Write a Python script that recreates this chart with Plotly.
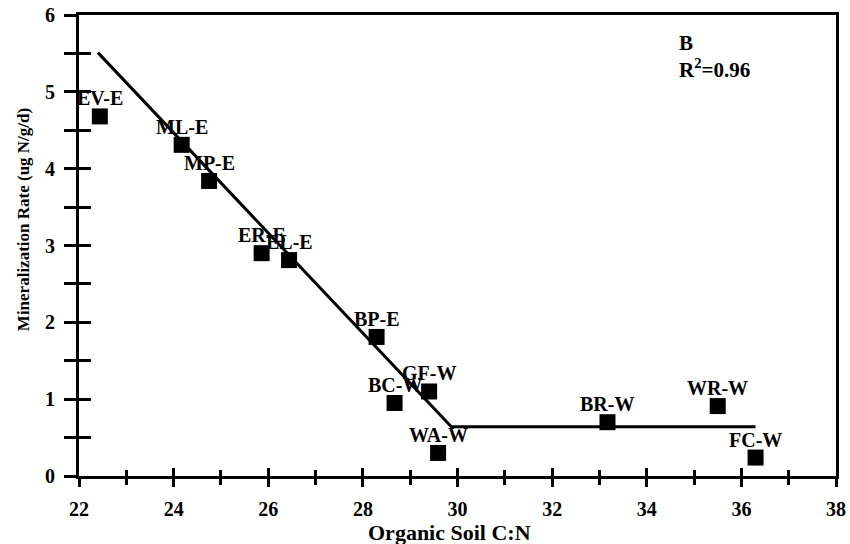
import plotly.graph_objects as go

# Data
site_labels = ["EV-E", "ML-E", "MP-E", "ER-E", "EL-E", "BP-E", "BC-W", "GF-W", "WA-W", "BR-W", "WR-W", "FC-W"]
soil_cn = [22.44, 24.17, 24.75, 25.86, 26.44, 28.29, 28.67, 29.40, 29.59, 33.17, 35.50, 36.30]
mineral_rate = [4.68, 4.31, 3.84, 2.90, 2.81, 1.81, 0.95, 1.10, 0.30, 0.70, 0.91, 0.24]

fit_x = [22.40, 29.87, 36.30]
fit_y = [5.51, 0.64, 0.64]

x_range = [22, 38]
y_range = [0, 6]
x_ticks = [22, 24, 26, 28, 30, 32, 34, 36, 38]
y_ticks = [0, 1, 2, 3, 4, 5, 6]

FONT = "Liberation Serif"

fig = go.Figure()
fig.add_trace(go.Scatter(
    x=fit_x, y=fit_y, mode="lines",
    line=dict(color="black", width=3),
    xaxis="x2", yaxis="y2", showlegend=False, hoverinfo="skip",
))
fig.add_trace(go.Scatter(
    x=soil_cn, y=mineral_rate, mode="markers",
    marker=dict(symbol="square", size=16, color="black"),
    cliponaxis=False, showlegend=False,
))

axis_common = dict(
    showgrid=False, zeroline=False, linecolor="black", linewidth=3,
    tickcolor="black", tickwidth=3, automargin=False,
)

point_labels = [
    dict(text=f"<b>{s}</b>", xref="x", yref="y", x=xv, y=yv, yshift=18,
         xanchor="center", yanchor="middle", showarrow=False,
         font=dict(family=FONT, size=20, color="black"))
    for s, xv, yv in zip(site_labels, soil_cn, mineral_rate)
]

fig.update_layout(
    width=850, height=544,
    margin=dict(l=79, r=14, t=15, b=68, autoexpand=False),
    paper_bgcolor="white", plot_bgcolor="white",
    xaxis=dict(
        range=x_range, tickvals=x_ticks, ticks="outside", ticklen=8,
        minor=dict(dtick=1, tick0=22, ticks="outside", ticklen=6, tickwidth=3, tickcolor="black"),
        mirror=True, showline=True, ticklabelstandoff=5,
        tickfont=dict(family=FONT, size=20, color="black", weight="bold"),
        **axis_common,
    ),
    yaxis=dict(
        range=y_range, tickvals=y_ticks, ticks="outside", ticklen=12,
        minor=dict(dtick=0.5, tick0=0, ticks="outside", ticklen=12, tickwidth=3, tickcolor="black"),
        mirror=True, showline=True, ticklabelstandoff=5,
        tickfont=dict(family=FONT, size=20, color="black", weight="bold"),
        **axis_common,
    ),
    xaxis2=dict(
        range=x_range, tickvals=x_ticks, ticks="inside", ticklen=8,
        minor=dict(dtick=1, tick0=22, ticks="inside", ticklen=6, tickwidth=3, tickcolor="black"),
        overlaying="x", side="bottom", showticklabels=False, showline=False,
        showgrid=False, zeroline=False, tickcolor="black", tickwidth=3, automargin=False,
    ),
    yaxis2=dict(
        range=y_range, tickvals=y_ticks, ticks="inside", ticklen=12,
        minor=dict(dtick=0.5, tick0=0, ticks="inside", ticklen=12, tickwidth=3, tickcolor="black"),
        overlaying="y", side="left", showticklabels=False, showline=False,
        showgrid=False, zeroline=False, tickcolor="black", tickwidth=3, automargin=False,
    ),
    annotations=point_labels + [
        dict(text="<b>Organic Soil C:N</b>", xref="x", yref="paper", x=29.83, y=0,
             xanchor="center", yanchor="middle", yshift=-56, showarrow=False,
             font=dict(family=FONT, size=22, color="black")),
        dict(text="<b>Mineralization Rate (ug N/g/d)</b>", xref="paper", yref="y",
             x=0, xshift=-56, y=3.33, xanchor="center", yanchor="middle",
             textangle=-90, showarrow=False,
             font=dict(family=FONT, size=17, color="black")),
        dict(text="<b>B</b><br><b>R<sup>2</sup>=0.96</b>", xref="x", yref="y",
             x=34.63, y=5.82, xanchor="left", yanchor="top", align="left",
             showarrow=False, font=dict(family=FONT, size=21, color="black")),
    ],
)

fig.write_html("out.html")
